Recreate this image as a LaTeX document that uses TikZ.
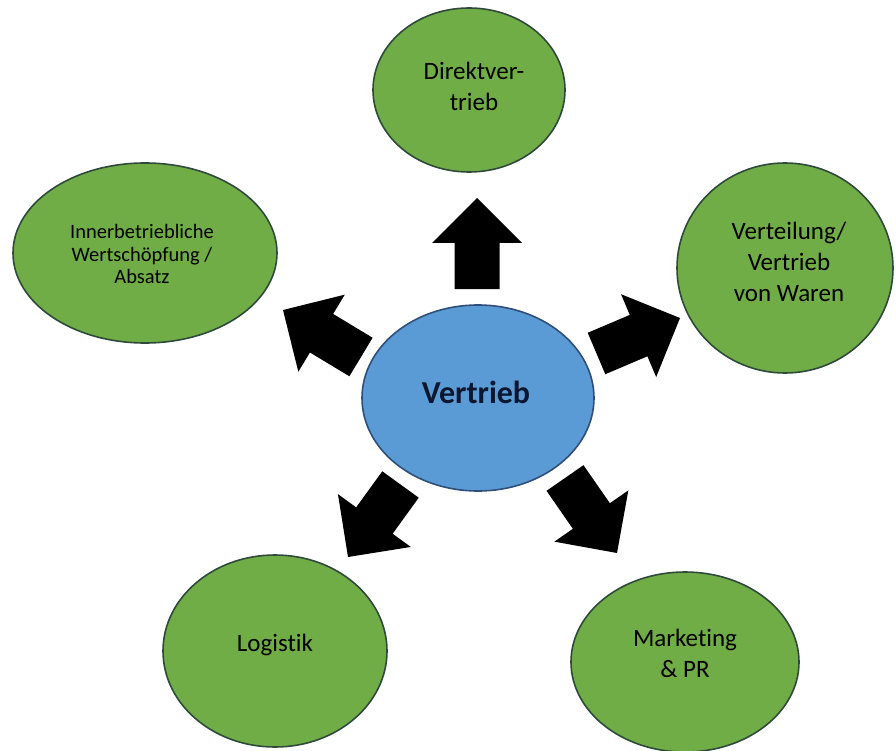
\documentclass[tikz,border=0pt]{standalone}
\usepackage{fontspec}
\setmainfont{Carlito}[Ligatures={NoCommon}]
\usetikzlibrary{calc,shapes.geometric}
\definecolor{ellgreen}{HTML}{70AD47}
\definecolor{ellblue}{HTML}{5B9BD5}
\definecolor{edgegreen}{HTML}{2F4A3A}
\definecolor{edgeblue}{HTML}{2F4F7A}
\definecolor{txtnavy}{HTML}{0B1730}
\newcommand{\blockarrow}[2]{%
  \coordinate (ba-b) at ($(#2)!45pt!(#1)$);
  \fill[black] ($(#1)!22.5pt!90:(#2)$) -- ($(ba-b)!22.5pt!90:(#2)$) -- ($(ba-b)!45pt!90:(#2)$) -- (#2)
    -- ($(ba-b)!45pt!-90:(#2)$) -- ($(ba-b)!22.5pt!-90:(#2)$) -- ($(#1)!22.5pt!-90:(#2)$) -- cycle;}
\begin{document}
\begin{tikzpicture}[x=1pt,y=-1pt,
  greenell/.style={draw=edgegreen,line width=1.6pt,fill=ellgreen},
  blueell/.style={draw=edgeblue,line width=1.6pt,fill=ellblue},
  lbl/.style={align=center,inner sep=0pt,text=black,font=\fontsize{25}{31}\selectfont},
  smalllbl/.style={align=center,inner sep=0pt,text=black,font=\fontsize{20.5}{22.5}\selectfont}]
\useasboundingbox (0,0) rectangle (896,751);
% ellipses
\draw[blueell] (478,398) ellipse [x radius=116, y radius=93];
\draw[greenell] (469,90) ellipse [x radius=96, y radius=82];
\draw[greenell] (145,253) ellipse [x radius=132, y radius=90];
\draw[greenell] (785,268) ellipse [x radius=108, y radius=105];
\draw[greenell] (275,651) ellipse [x radius=112, y radius=96];
\draw[greenell] (685,662) ellipse [x radius=114, y radius=90];
% labels
\node[inner sep=0pt,text=txtnavy,font=\fontsize{32}{38}\selectfont\bfseries] (vertrieb) at (476,392) {Vertrieb};
\node[lbl] (direkt) at (474,86) {Direktver-\\trieb};
\node[smalllbl] (inner) at (142,254) {Innerbetriebliche\\Wertschöpfung /\\Absatz};
\node[lbl] (vert) at (789,262) {Verteilung/\\Vertrieb\\von Waren};
\node[lbl] (logistik) at (275,645) {Logistik};
\node[lbl] (market) at (685,653) {Marketing\\\& PR};
% arrows
\coordinate (t1) at (477,289); \coordinate (p1) at (477,198);
\coordinate (t2) at (361,357); \coordinate (p2) at (283,310);
\coordinate (t3) at (596.5,353.5); \coordinate (p3) at (680,318);
\coordinate (t4) at (400.5,484.5); \coordinate (p4) at (348,557);
\coordinate (t5) at (565,478); \coordinate (p5) at (617,553);
\blockarrow{t1}{p1}
\blockarrow{t2}{p2}
\blockarrow{t3}{p3}
\blockarrow{t4}{p4}
\blockarrow{t5}{p5}
\end{tikzpicture}
\end{document}
